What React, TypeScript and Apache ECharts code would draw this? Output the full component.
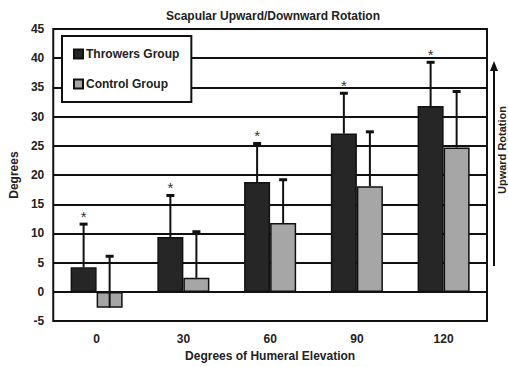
import React, { useEffect, useRef } from "react";
import * as echarts from "echarts";

const categories = ["0", "30", "60", "90", "120"];
const throwersMean = [4.2, 9.4, 18.8, 27.1, 31.8];
const throwersSD = [7.4, 7.1, 6.6, 6.9, 7.5];
const controlMean = [-2.7, 2.4, 11.8, 18.1, 24.7];
const controlSD = [8.8, 7.9, 7.4, 9.3, 9.6];
const significant = [true, true, true, true, true];

const FONT = "'Liberation Sans', Arial, sans-serif";

function errorSeries(name: string, means: number[], sds: number[], side: number, stars: boolean) {
  return {
    type: "custom",
    name,
    z: 10,
    silent: true,
    renderItem: (params: any, api: any) => {
      const i = api.value(0);
      const m = api.value(1);
      const t = api.value(2);
      const band = api.size([1, 0])[0];
      const bw = band * 0.3;
      const p0 = api.coord([i, m]);
      const p1 = api.coord([i, t]);
      const x = p0[0] + (side * bw) / 2;
      const children: any[] = [
        {
          type: "line",
          shape: { x1: x, y1: p0[1], x2: x, y2: p1[1] },
          style: { stroke: "#111", lineWidth: 2 },
        },
        {
          type: "rect",
          shape: { x: x - 4, y: p1[1] - 1.5, width: 8, height: 3 },
          style: { fill: "#111" },
        },
      ];
      if (stars && significant[i]) {
        children.push({
          type: "text",
          style: {
            text: "*",
            x: x,
            y: p1[1] - 8,
            align: "center",
            verticalAlign: "middle",
            fontSize: 15,
            fontFamily: FONT,
            fill: "#333",
          },
        });
      }
      return { type: "group", children };
    },
    data: means.map((m, i) => [i, m, m + sds[i]]),
  };
}

export default function App() {
  const ref = useRef<HTMLDivElement>(null);
  useEffect(() => {
    const chart = echarts.init(ref.current!, undefined, { renderer: "svg" });
    chart.setOption({
      animation: false,
      backgroundColor: "#fff",
      textStyle: { fontFamily: FONT },
      title: {
        text: "Scapular Upward/Downward Rotation",
        left: 268,
        textAlign: "center",
        top: 5,
        textStyle: { fontSize: 12, fontWeight: "bold", color: "#222", fontFamily: FONT },
      },
      legend: {
        orient: "vertical",
        left: 62,
        top: 36,
        padding: [12, 12, 12, 11],
        itemGap: 18,
        itemWidth: 9,
        itemHeight: 9,
        icon: "rect",
        backgroundColor: "#fff",
        borderColor: "#111",
        borderWidth: 2,
        borderRadius: 0,
        data: ["Throwers Group", "Control Group"],
        textStyle: { fontSize: 12, fontWeight: "bold", color: "#222", fontFamily: FONT, padding: [0, 0, 0, -2] },
      },
      grid: {
        left: 51,
        right: 21,
        top: 29,
        bottom: 41,
        show: true,
        borderColor: "#111",
        borderWidth: 2,
        backgroundColor: "#fff",
      },
      xAxis: {
        type: "category",
        data: categories,
        name: "Degrees of Humeral Elevation",
        nameLocation: "middle",
        nameGap: 27,
        nameTextStyle: { fontSize: 12, fontWeight: "bold", color: "#222", fontFamily: FONT },
        axisLine: { show: false, onZero: false },
        axisTick: { show: false },
        axisLabel: { margin: 12, fontSize: 12, fontWeight: "bold", color: "#222", fontFamily: FONT },
        splitLine: { show: false },
      },
      yAxis: {
        type: "value",
        min: -5,
        max: 45,
        interval: 5,
        name: "Degrees",
        nameLocation: "middle",
        nameGap: 31,
        nameTextStyle: { fontSize: 12, fontWeight: "bold", color: "#222", fontFamily: FONT },
        axisLine: { show: false },
        axisTick: { show: false },
        axisLabel: { margin: 9, fontSize: 12, fontWeight: "bold", color: "#222", fontFamily: FONT },
        splitLine: { show: true, lineStyle: { color: "#111", width: 2 } },
      },
      series: [
        {
          type: "bar",
          name: "Throwers Group",
          data: throwersMean,
          barGap: "0%",
          barCategoryGap: "40%",
          itemStyle: { color: "#262626", borderColor: "#111", borderWidth: 1.5 },
        },
        {
          type: "bar",
          name: "Control Group",
          data: controlMean,
          barGap: "0%",
          barCategoryGap: "40%",
          itemStyle: { color: "#a6a6a6", borderColor: "#111", borderWidth: 1.5 },
        },
        errorSeries("Throwers SD", throwersMean, throwersSD, -1, true),
        errorSeries("Control SD", controlMean, controlSD, 1, false),
      ],
      graphic: [
        {
          type: "line",
          shape: { x1: 494, y1: 266, x2: 494, y2: 68 },
          style: { stroke: "#111", lineWidth: 2 },
        },
        {
          type: "polygon",
          shape: { points: [[490, 71], [498, 71], [494, 61]] },
          style: { fill: "#111" },
        },
        {
          type: "text",
          x: 501.5,
          y: 150,
          rotation: Math.PI / 2,
          style: {
            text: "Upward Rotation",
            align: "center",
            verticalAlign: "middle",
            fontSize: 11,
            fontWeight: "bold",
            fill: "#222",
            fontFamily: FONT,
          },
        },
      ],
    });
    return () => chart.dispose();
  }, []);
  return <div ref={ref} style={{ width: 508, height: 367, position: "absolute", left: 0, top: 0 }} />;
}
